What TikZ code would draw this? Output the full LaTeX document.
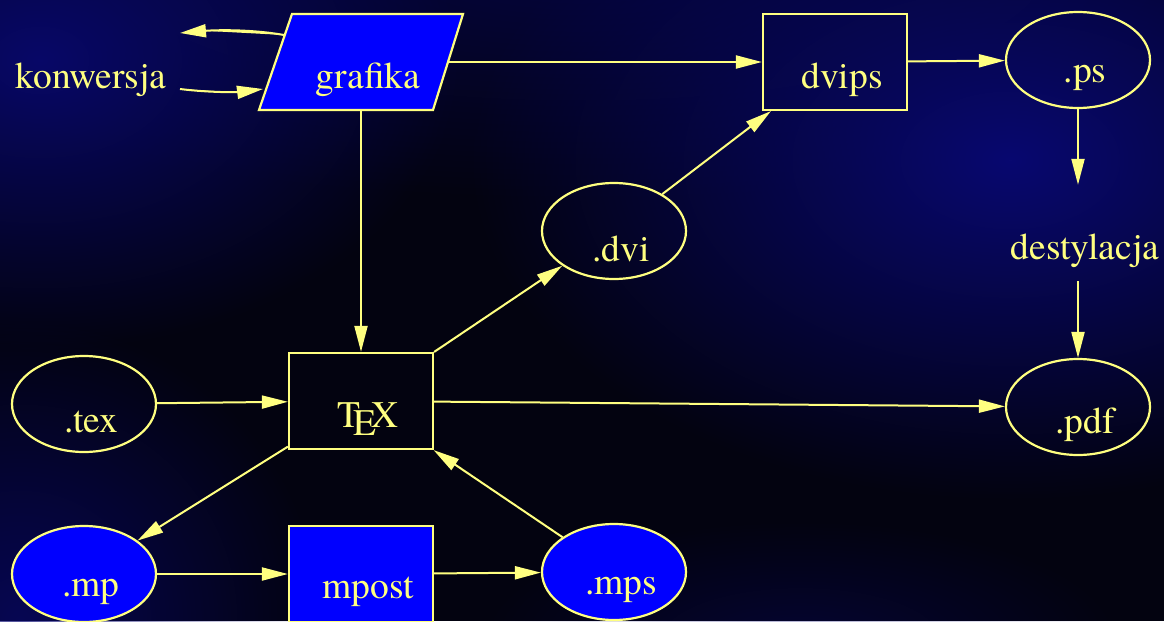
\documentclass[tikz,border=0pt]{standalone}
\usepackage{fontspec}
\newfontfamily\lser{texgyretermes-regular.otf}
\usetikzlibrary{shapes.geometric,arrows.meta,fadings}
\definecolor{yel}{RGB}{255,255,128}
\definecolor{nblue}{RGB}{0,0,255}
\definecolor{bgbase}{RGB}{3,3,16}
\definecolor{bgblue}{RGB}{8,8,112}
\tikzfading[name=blob, inner color=transparent!0, outer color=transparent!100]
\begin{document}
\begin{tikzpicture}[x=1pt,y=-1pt,
  >={Triangle[length=26pt,width=13pt]},
  every node/.style={font=\lser\fontsize{37.5}{40}\selectfont, text=yel},
  conn/.style={->, draw=yel, fill=yel, line width=2pt},
  ell/.style={ellipse, draw=yel, line width=2.2pt, minimum width=144pt, minimum height=96pt, inner sep=0pt},
  box/.style={rectangle, draw=yel, line width=2.2pt, minimum width=144pt, minimum height=96pt, inner sep=0pt},
  plainnode/.style={minimum width=144pt, minimum height=96pt, inner sep=0pt},
  txt/.style={label={[anchor=base, xshift=7pt, yshift=-18pt, text=yel, font=\lser\fontsize{37.5}{40}\selectfont]center:#1}}
]
\useasboundingbox (0,0) rectangle (1164,621);
% background
\fill[bgbase] (0,0) rectangle (1164,621);
\begin{scope}
  \clip (0,0) rectangle (1164,621);
  \fill[bgblue, path fading=blob, fill opacity=0.45] (580,-30) ellipse [x radius=820, y radius=230];
  \fill[bgblue, path fading=blob] (1010,160) ellipse [x radius=540, y radius=340];
  \fill[bgblue, path fading=blob, fill opacity=0.9] (40,60) ellipse [x radius=420, y radius=290];
  \fill[bgblue, path fading=blob, fill opacity=0.7] (20,621) circle (300);
  \fill[bgblue, path fading=blob, fill opacity=0.35] (800,640) ellipse [x radius=320, y radius=120];
\end{scope}

% grafika parallelogram
\draw[yel, fill=nblue, line width=2.2pt, line join=miter] (292,14) -- (463,14) -- (433,110) -- (259,110) -- cycle;
\node[plainnode, minimum width=172pt, txt=grafika] (graf) at (361,62) {};

% nodes
\node[plainnode, txt=konwersja] (konw) at (84,62) {};
\node[box, txt=dvips] (dvips) at (835,62) {};
\node[ell, txt=.ps] (ps) at (1078,60) {};
\node[plainnode, txt=destylacja] (dest) at (1078,233) {};
\node[ell, txt=.pdf] (pdf) at (1078,407) {};
\node[ell, txt=.dvi] (dvi) at (614,231) {};
\node[box, txt=\TeX] (tex) at (361,401) {};
\node[ell, txt=.tex] (dottex) at (84,404) {};
\node[ell, fill=nblue, txt=.mp] (mp) at (84,574) {};
\node[box, fill=nblue, txt=mpost] (mpost) at (361,574) {};
\node[ell, fill=nblue, txt=.mps] (mps) at (614,572) {};

% konwersja loops
\coordinate (g1) at (284,35);
\coordinate (k1) at (180,33);
\coordinate (k2) at (180,89);
\coordinate (g2) at (263,89);
\draw[conn] (g1) .. controls (250,29) and (215,30) .. (k1);
\draw[conn] (k2) .. controls (212,93) and (240,92) .. (g2);

% connectors
\draw[conn] (graf) -- (dvips);
\draw[conn] (graf) -- (tex);
\draw[conn] (dvips) -- (ps);
\draw[conn] (ps) -- (dest);
\draw[conn] (dest) -- (pdf);
\draw[conn] (dvi) -- (dvips);
\draw[conn] (tex) -- (dvi);
\draw[conn] (tex) -- (pdf);
\draw[conn] (dottex) -- (tex);
\draw[conn] (tex) -- (mp);
\draw[conn] (mp) -- (mpost);
\draw[conn] (mpost) -- (mps);
\draw[conn] (mps) -- (tex);
\end{tikzpicture}
\end{document}
